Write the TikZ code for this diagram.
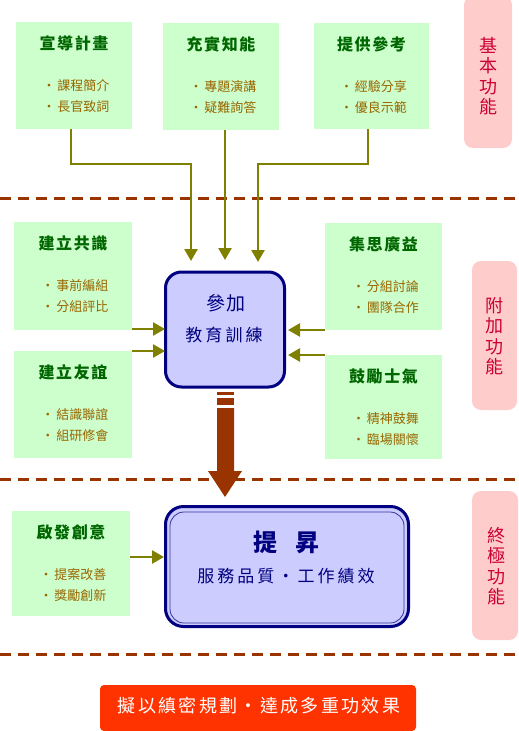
\documentclass[tikz,border=0pt]{standalone}
\usepackage{fontspec}
\newfontfamily\cjkt[LetterSpace=10]{Noto Sans CJK TC}
\newfontfamily\cjkn{Noto Sans CJK TC}
\newfontfamily\cjkm[LetterSpace=18]{Noto Sans CJK TC}
\newfontfamily\cjkr[LetterSpace=13]{Noto Sans CJK TC}
\newfontfamily\cjkb[LetterSpace=5]{Noto Sans CJK TC}
\usetikzlibrary{arrows.meta}
\definecolor{grfill}{HTML}{CCFFCC}
\definecolor{grtext}{HTML}{006600}
\definecolor{bultext}{HTML}{996600}
\definecolor{olive}{HTML}{808000}
\definecolor{brn}{HTML}{993300}
\definecolor{navy}{HTML}{000080}
\definecolor{lav}{HTML}{CCCCFF}
\definecolor{pinkfill}{HTML}{FFCCCC}
\definecolor{pinktext}{HTML}{CC0033}
\definecolor{goalred}{HTML}{FF3300}
\definecolor{innerline}{HTML}{333399}
\tikzset{
  gbox/.style={fill=grfill, draw=none, inner sep=0pt, outer sep=0pt},
  gtitle/.style={text=grtext, font=\cjkt\bfseries\fontsize{16}{18}\selectfont, inner sep=0pt},
  gbul/.style={text=bultext, font=\cjkn\fontsize{13}{15}\selectfont, inner sep=0pt},
  conn/.style={draw=olive, line width=2.5pt, -{Triangle[width=13pt,length=12pt]}},
  sepline/.style={draw=brn, line width=3pt, dash pattern=on 11pt off 7pt},
  pinkbox/.style={fill=pinkfill, draw=none, rounded corners=9pt, inner sep=0pt, outer sep=0pt},
  pinklbl/.style={text=pinktext, align=center, inner sep=0pt, font=\cjkn\fontsize{18}{20.5}\selectfont},
  corebox/.style={draw=navy, line width=3pt, fill=lav, inner sep=0pt},
  coretext/.style={text=navy, inner sep=0pt},
}
\newcommand\greenbox[8]{%
  \node[gbox, minimum width={#4pt-#2pt}, minimum height={#5pt-#3pt}] (#1) at ({(#2+#4)/2},{(#3+#5)/2}) {};
  \node[gtitle] (#1t) at ({(#2+#4)/2},{#3+21}) {#6};
  \node[gbul] (#1a) at ({(#2+#4)/2+2},{#3+64}) {‧\hspace{2pt}#7};
  \node[gbul] (#1b) at ({(#2+#4)/2+2},{#3+85}) {‧\hspace{2pt}#8};
}
\begin{document}
\begin{tikzpicture}[x=1pt,y=-1pt]
\useasboundingbox (0,0) rectangle (519,731);

% separators
\draw[sepline] (0,198) -- (519,198);
\draw[sepline] (0,479) -- (519,479);
\draw[sepline] (0,654) -- (519,654);

% pink side labels
\node[pinkbox, minimum width=48pt, minimum height=152pt] (p1) at (488,72) {};
\node[pinklbl] (p1t) at (488,76) {基\\本\\功\\能};
\node[pinkbox, minimum width=45pt, minimum height=149pt] (p2) at (494.5,335.5) {};
\node[pinklbl] (p2t) at (494,336) {附\\加\\功\\能};
\node[pinkbox, minimum width=46pt, minimum height=149pt] (p3) at (495,565.5) {};
\node[pinklbl] (p3t) at (496,566) {終\\極\\功\\能};

% green boxes
\greenbox{b1}{16}{22}{132}{129}{宣導計畫}{課程簡介}{長官致詞}
\greenbox{b2}{163}{23}{279}{130}{充實知能}{專題演講}{疑難詢答}
\greenbox{b3}{314}{23}{429}{129}{提供參考}{經驗分享}{優良示範}
\greenbox{ml1}{14}{222}{132}{330}{建立共識}{事前編組}{分組評比}
\greenbox{ml2}{14}{351}{132}{458}{建立友誼}{結識聯誼}{組研修會}
\greenbox{mr1}{325}{223}{442}{330}{集思廣益}{分組討論}{團隊合作}
\greenbox{mr2}{325}{355}{442}{459}{鼓勵士氣}{精神鼓舞}{臨場關懷}
\greenbox{bl}{12}{511}{130}{616}{啟發創意}{提案改善}{獎勵創新}

% central box
\node[corebox, rounded corners=16pt, minimum width=119pt, minimum height=115pt] (c1) at (225,329.5) {};
\node[coretext, font=\cjkb\fontsize{19}{21}\selectfont] (c1a) at (226,303) {參加};
\node[coretext, font=\cjkm\fontsize{17}{19}\selectfont] (c1b) at (224,335) {教育訓練};

% arrow tips (free ends)
\coordinate (t1) at (191,261);
\coordinate (t2) at (225,260);
\coordinate (t3) at (258,262);
\coordinate (l1) at (165,329);
\coordinate (l2) at (165,351);
\coordinate (r1) at (288,330);
\coordinate (r2) at (288,355);
\coordinate (l3) at (164,557);

\draw[conn] ([xshift=-3pt]b1.south) |- (191,164) -- (t1);
\draw[conn] ([xshift=4pt]b2.south) -- (t2);
\draw[conn] ([xshift=-3.5pt]b3.south) |- (258,164) -- (t3);
\draw[conn] (ml1.east |- l1) -- (l1);
\draw[conn] (ml2.east |- l2) -- (l2);
\draw[conn] (mr1.west |- r1) -- (r1);
\draw[conn] (mr2.west |- r2) -- (r2);

% big arrow
\fill[brn] (217,392) rectangle (234,394.5);
\fill[brn] (217,398) rectangle (234,405);
\fill[brn] (217,408) -- (234,408) -- (234,471) -- (242,471) -- (225,497) -- (208,471) -- (217,471) -- cycle;

% result box
\node[corebox, rounded corners=18pt, minimum width=243pt, minimum height=120pt] (c2) at (287,566.5) {};
\node[draw=innerline, line width=0.8pt, rounded corners=14pt, minimum width=234pt, minimum height=111pt, inner sep=0pt] (c2in) at (287,567.5) {};
\node[coretext, font=\cjkn\bfseries\fontsize{24}{26}\selectfont] (c2a) at (286,542) {提\hspace{18pt}昇};
\node[coretext, font=\cjkm\fontsize{17}{19}\selectfont] (c2b) at (286,576) {服務品質‧工作績效};
\draw[conn] (bl.east |- l3) -- (l3);

% goal
\node[fill=goalred, rounded corners=4pt, minimum width=316pt, minimum height=46pt, inner sep=0pt] (goal) at (258,708) {};
\node[text=white, inner sep=0pt, font=\cjkr\fontsize{18}{20}\selectfont] (goalt) at (259,706) {擬以縝密規劃‧達成多重功效果};
\end{tikzpicture}
\end{document}
